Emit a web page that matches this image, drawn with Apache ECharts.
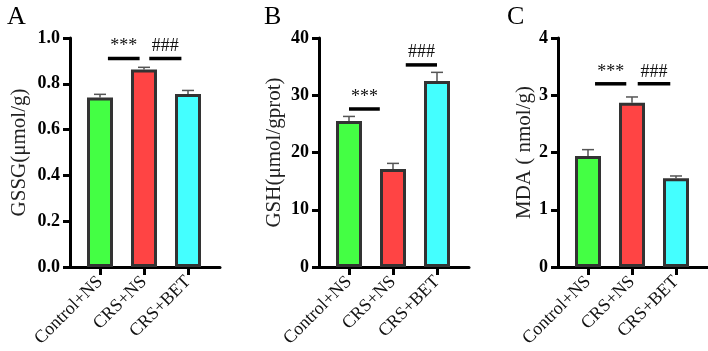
<!DOCTYPE html>
<html><head><meta charset="utf-8">
<script src="https://cdn.jsdelivr.net/npm/echarts@6/dist/echarts.min.js"></script>
<style>html,body{margin:0;padding:0;background:#fff}#c{width:708px;height:351px}</style>
</head><body><div id="c"></div>
<script>
const categories = ['Control+NS', 'CRS+NS', 'CRS+BET'];
const categoryPos = [1, 2, 3];

const gssgMean = [0.740, 0.862, 0.755];
const gssgErr  = [0.014, 0.010, 0.016];
const gshMean  = [25.5, 17.1, 32.5];
const gshErr   = [0.8, 1.0, 1.5];
const mdaMean  = [1.94, 2.87, 1.55];
const mdaErr   = [0.11, 0.10, 0.04];

const yNames = ['GSSG(μmol/g)', 'GSH(μmol/gprot)', 'MDA ( nmol/g)'];
const yMax = [1.0, 40, 4];
const yInterval = [0.2, 10, 1];
const panelLetters = ['A', 'B', 'C'];

// significance annotations: [xStart, xEnd, lineValue, textValue, text]
const sigA = [[1.18, 1.90, 0.911, 0.965, '***'], [2.12, 2.85, 0.911, 0.965, '###']];
const sigB = [[1.00, 1.70, 27.6, 29.6, '***'], [2.29, 3.00, 35.3, 37.5, '###']];
const sigC = [[1.16, 1.87, 3.20, 3.41, '***'], [2.13, 2.87, 3.20, 3.41, '###']];

const barColors = ['#44ff44', '#ff4444', '#44ffff'];
const FONT = '"Liberation Serif","Times New Roman",serif';

const means = [gssgMean, gshMean, mdaMean];
const errs = [gssgErr, gshErr, mdaErr];
const sigs = [sigA, sigB, sigC];
const gridLefts = [70, 319, 558];
const nameGaps = [40, 34, 21];
const letterLefts = [2, 259, 502];

const chart = echarts.init(document.getElementById('c'), null, {renderer: 'canvas'});

const grids = [], xAxes = [], yAxes = [], series = [], titles = [];
for (let p = 0; p < 3; p++) {
  grids.push({left: gridLefts[p], width: 150, top: 38, bottom: 84, containLabel: false});
  titles.push({text: panelLetters[p], left: letterLefts[p], top: -1,
    textStyle: {fontFamily: FONT, fontWeight: 'normal', fontSize: 26, color: '#000'}});
  xAxes.push({
    type: 'value', gridIndex: p, min: 1 - 30 / 44, max: 3 + 32 / 44,
    splitLine: {show: false},
    axisLine: {show: true, onZero: false, lineStyle: {color: '#000', width: 3}},
    axisTick: {show: true, customValues: categoryPos, length: 8, lineStyle: {color: '#000', width: 3}},
    axisLabel: {show: true, customValues: categoryPos, rotate: 45, margin: 12,
      formatter: v => categories[Math.round(v) - 1] || '',
      fontFamily: FONT, fontSize: 18, color: '#111'}
  });
  yAxes.push({
    type: 'value', gridIndex: p, min: 0, max: yMax[p], interval: yInterval[p],
    name: yNames[p], nameLocation: 'middle', nameRotate: 90, nameGap: nameGaps[p],
    nameTextStyle: {fontFamily: FONT, fontSize: 21, color: '#222'},
    splitLine: {show: false},
    axisLine: {show: true, lineStyle: {color: '#000', width: 3}},
    axisTick: {show: true, length: 7, lineStyle: {color: '#000', width: 3}},
    axisLabel: {margin: 10, fontFamily: FONT, fontWeight: 'bold', fontSize: 18, color: '#000',
      formatter: v => p === 0 ? v.toFixed(1) : String(v)}
  });
  // error bars (drawn under the bars)
  series.push({
    type: 'custom', xAxisIndex: p, yAxisIndex: p, z: 1,
    data: categoryPos.map((x, i) => [x, means[p][i], errs[p][i]]),
    renderItem: (params, api) => {
      const x = api.value(0), m = api.value(1), e = api.value(2);
      const base = api.coord([x, m]);
      const top = api.coord([x, m + e]);
      return {type: 'group', children: [
        {type: 'line', shape: {x1: base[0], y1: base[1], x2: top[0], y2: top[1]}, style: {stroke: '#555', lineWidth: 1.5}},
        {type: 'line', shape: {x1: top[0] - 6, y1: top[1], x2: top[0] + 6, y2: top[1]}, style: {stroke: '#555', lineWidth: 1.5}}
      ]};
    }
  });
  series.push({
    type: 'bar', xAxisIndex: p, yAxisIndex: p, z: 2, barWidth: 26,
    data: categoryPos.map((x, i) => ({value: [x, means[p][i]],
      itemStyle: {color: barColors[i], borderColor: '#333', borderWidth: 3}})),
    emphasis: {disabled: true}
  });
  const sig = sigs[p];
  series.push({
    type: 'custom', xAxisIndex: p, yAxisIndex: p, z: 3,
    data: sig.map(s => [s[0], s[1], s[2], s[3]]),
    renderItem: (params, api) => {
      const s = sig[params.dataIndex];
      const a = api.coord([s[0], s[2]]);
      const b = api.coord([s[1], s[2]]);
      const t = api.coord([(s[0] + s[1]) / 2, s[3]]);
      return {type: 'group', children: [
        {type: 'line', shape: {x1: a[0], y1: a[1], x2: b[0], y2: b[1]}, style: {stroke: '#000', lineWidth: 3.5}},
        {type: 'text', x: t[0], y: t[1], style: {text: s[4], fontFamily: FONT, fontSize: 18,
          fontWeight: 'normal', fill: '#111', align: 'center', verticalAlign: 'middle'}}
      ]};
    }
  });
}

chart.setOption({
  animation: false,
  title: titles,
  grid: grids,
  xAxis: xAxes,
  yAxis: yAxes,
  series: series
});
</script>
</body></html>
